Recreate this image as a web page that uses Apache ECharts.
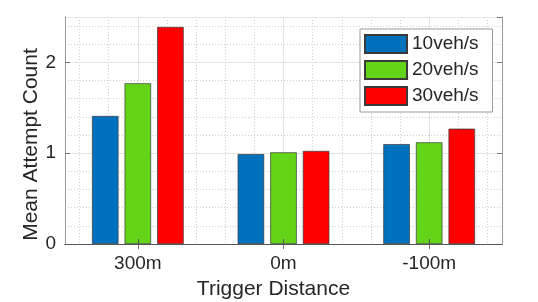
<!DOCTYPE html>
<html>
<head>
<meta charset="utf-8">
<script src="https://cdn.jsdelivr.net/npm/echarts@6/dist/echarts.min.js"></script>
<style>
html,body{margin:0;padding:0;background:#fff;}
#chart{width:538px;height:302px;}
</style>
</head>
<body>
<div id="chart"></div>
<script>
const categories = ['300m', '0m', '-100m'];
const seriesNames = ['10veh/s', '20veh/s', '30veh/s'];
const values10 = [1.41, 0.99, 1.10];
const values20 = [1.77, 1.01, 1.12];
const values30 = [2.39, 1.025, 1.27];
const yTicks = [0, 1, 2];

const colors = ['#0072BD', '#63D417', '#FF0000'];
const FONT = '"Liberation Sans", Arial, Helvetica, sans-serif';
const TXT = '#262626';

// fine sub-positions (steps of 0.1 category widths) used only to place grid lines
const fineSlots = [];
for (let i = 0; i <= 30; i++) fineSlots.push('s' + i);

const chart = echarts.init(document.getElementById('chart'), null, {renderer: 'canvas'});

const allValues = [values10, values20, values30];
const series = seriesNames.map((name, i) => ({
  name: name,
  type: 'bar',
  xAxisIndex: 0,
  yAxisIndex: 0,
  data: allValues[i],
  barWidth: 26.5,
  barGap: '23%',
  itemStyle: {color: colors[i], borderColor: '#3a3a3a', borderWidth: 0.7},
  emphasis: {disabled: true},
  z: 5
}));

chart.setOption({
  animation: false,
  backgroundColor: '#ffffff',
  textStyle: {fontFamily: FONT, color: TXT},
  grid: {left: 65, right: 36, top: 17, bottom: 58, containLabel: false, outerBoundsMode: 'none'},
  legend: {
    orient: 'vertical',
    left: 360,
    top: 29,
    data: seriesNames,
    itemWidth: 42,
    itemHeight: 18,
    itemGap: 6,
    padding: [5, 14, 6, 4],
    borderColor: '#9a9a9a',
    borderWidth: 1,
    backgroundColor: '#ffffff',
    textStyle: {fontFamily: FONT, fontSize: 19, color: TXT},
    icon: 'rect',
    selectedMode: false,
    z: 10
  },
  xAxis: [
    {
      type: 'category',
      data: categories,
      position: 'bottom',
      boundaryGap: true,
      name: 'Trigger Distance',
      nameLocation: 'middle',
      nameGap: 35,
      nameMoveOverlap: false,
      nameTextStyle: {fontFamily: FONT, fontSize: 21, color: TXT, padding: [0, 20, 0, 0]},
      axisLine: {show: true, lineStyle: {color: '#555555', width: 1}},
      axisTick: {show: true, inside: true, alignWithLabel: true, length: 5, lineStyle: {color: '#555555'}},
      axisLabel: {fontFamily: FONT, fontSize: 19, color: TXT, margin: 10},
      splitLine: {show: false},
      z: 6
    },
    {
      type: 'category',
      data: fineSlots,
      position: 'top',
      boundaryGap: false,
      axisLine: {show: true, lineStyle: {color: '#9a9a9a', width: 1}},
      axisTick: {show: true, inside: true, length: 5, interval: (idx) => idx % 10 === 5, lineStyle: {color: '#777777'}},
      axisLabel: {show: false},
      splitLine: {show: true, interval: (idx) => idx % 10 === 5, lineStyle: {color: '#e3e3e3', width: 1}},
      z: 2
    },
    {
      type: 'category',
      data: fineSlots,
      position: 'bottom',
      boundaryGap: false,
      axisLine: {show: false},
      axisTick: {show: false},
      axisLabel: {show: false},
      splitLine: {show: true, interval: (idx) => idx % 2 === 1, lineStyle: {color: '#cfcfcf', width: 1, type: [1, 2]}},
      z: 1
    }
  ],
  yAxis: [
    {
      type: 'value',
      min: 0,
      max: 2.5,
      interval: 1,
      position: 'left',
      name: 'Mean Attempt Count',
      nameLocation: 'middle',
      nameGap: 23,
      nameMoveOverlap: false,
      nameTextStyle: {fontFamily: FONT, fontSize: 21, color: TXT, padding: [0, 28, 0, 0]},
      axisLine: {show: true, lineStyle: {color: '#9a9a9a', width: 1}},
      axisTick: {show: true, inside: true, length: 5, lineStyle: {color: '#777777'}},
      axisLabel: {
        fontFamily: FONT, fontSize: 19, color: TXT, margin: 9, showMaxLabel: false,
        formatter: (v) => (yTicks.indexOf(v) >= 0 ? String(v) : '')
      },
      splitLine: {show: true, lineStyle: {color: '#e3e3e3', width: 1}},
      z: 2
    },
    {
      type: 'value',
      min: 0,
      max: 2.5,
      interval: 1,
      position: 'right',
      axisLine: {show: true, lineStyle: {color: '#9a9a9a', width: 1}},
      axisTick: {show: true, inside: true, length: 5, lineStyle: {color: '#777777'}},
      axisLabel: {show: false},
      splitLine: {show: false},
      z: 2
    },
    {
      type: 'value',
      min: 0,
      max: 2.5,
      interval: 0.2,
      position: 'left',
      axisLine: {show: false},
      axisTick: {show: false},
      axisLabel: {show: false},
      splitLine: {show: true, lineStyle: {color: '#cfcfcf', width: 1, type: [1, 2]}},
      z: 1
    }
  ],
  series: series
});
</script>
</body>
</html>
